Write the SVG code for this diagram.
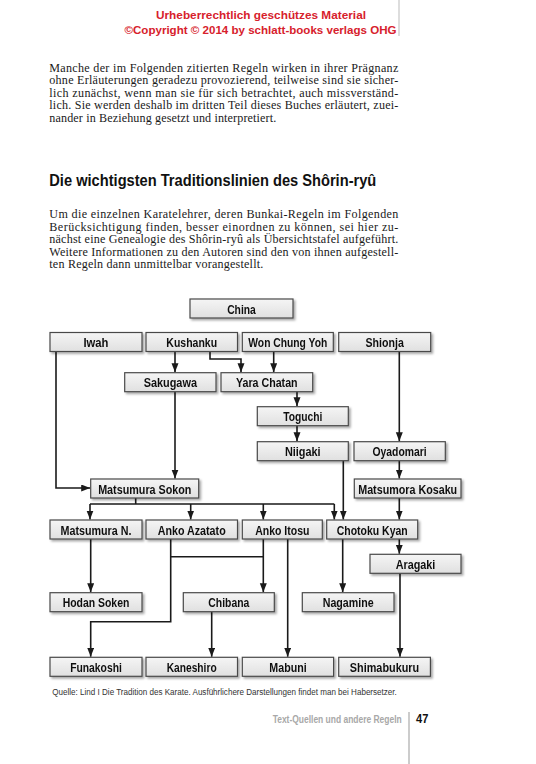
<svg xmlns="http://www.w3.org/2000/svg" width="536" height="764" viewBox="0 0 536 764">
<style>
.hdr{font-family:"Liberation Sans",Arial,sans-serif;font-weight:bold;font-size:11.5px;fill:#d7212c}
.body{font-family:"Liberation Serif","Times New Roman",serif;font-size:12.1px;fill:#1a1a1a}
.h2{font-family:"Liberation Sans",Arial,sans-serif;font-weight:bold;font-size:16.5px;fill:#111}
.box{fill:url(#bg);stroke:#4a4a4a;stroke-width:1.2}
.lbl{font-family:"Liberation Sans",Arial,sans-serif;font-weight:bold;font-size:13.5px;fill:#111;text-anchor:middle}
.con path{fill:none;stroke:#1a1a1a;stroke-width:1.6}
.arr{marker-end:url(#ah)}
.cap{font-family:"Liberation Sans",Arial,sans-serif;font-size:9.6px;fill:#333}
.ft{font-family:"Liberation Sans",Arial,sans-serif;font-weight:bold;font-size:11px;fill:#a8a8a8;text-anchor:end}
.pg{font-family:"Liberation Sans",Arial,sans-serif;font-weight:bold;font-size:13px;fill:#111}
</style>
<defs>
<linearGradient id="bg" x1="0" y1="0" x2="0" y2="1">
<stop offset="0" stop-color="#f5f5f5"/>
<stop offset="1" stop-color="#e0e0e0"/>
</linearGradient>
<filter id="sh" x="-10%" y="-30%" width="125%" height="180%">
<feDropShadow dx="1.8" dy="1.8" stdDeviation="1.3" flood-color="#000" flood-opacity="0.35"/>
</filter>
<marker id="ah" markerUnits="userSpaceOnUse" markerWidth="10" markerHeight="8" refX="9" refY="3.5" orient="auto">
<path d="M0,0 L9,3.5 L0,7 Z" fill="#1a1a1a"/>
</marker>
</defs>
<rect width="536" height="764" fill="#fff"/>

<g id="header">
<text class="hdr" x="156" y="19" textLength="210" lengthAdjust="spacingAndGlyphs">Urheberrechtlich geschützes Material</text>
<text class="hdr" x="124.5" y="33.5" textLength="272" lengthAdjust="spacingAndGlyphs">©Copyright © 2014 by schlatt-books verlags OHG</text>
<line x1="399" y1="0" x2="399" y2="36" stroke="#bbb" stroke-width="1"/>
</g>

<g id="para1">
<text class="body" x="49.3" y="71.5" textLength="349" lengthAdjust="spacing">Manche der im Folgenden zitierten Regeln wirken in ihrer Prägnanz</text>
<text class="body" x="49.3" y="84" textLength="349" lengthAdjust="spacing">ohne Erläuterungen geradezu provozierend, teilweise sind sie sicher-</text>
<text class="body" x="49.3" y="96.5" textLength="349" lengthAdjust="spacing">lich zunächst, wenn man sie für sich betrachtet, auch missverständ-</text>
<text class="body" x="49.3" y="109" textLength="349" lengthAdjust="spacing">lich. Sie werden deshalb im dritten Teil dieses Buches erläutert, zuei-</text>
<text class="body" x="49.3" y="121.5" textLength="227" lengthAdjust="spacing">nander in Beziehung gesetzt und interpretiert.</text>
</g>

<g id="heading">
<text class="h2" x="49.3" y="186" textLength="327" lengthAdjust="spacingAndGlyphs">Die wichtigsten Traditionslinien des Shôrin-ryû</text>
</g>

<g id="para2">
<text class="body" x="49.3" y="218" textLength="349" lengthAdjust="spacing">Um die einzelnen Karatelehrer, deren Bunkai-Regeln im Folgenden</text>
<text class="body" x="49.3" y="230.5" textLength="349" lengthAdjust="spacing">Berücksichtigung finden, besser einordnen zu können, sei hier zu-</text>
<text class="body" x="49.3" y="243" textLength="349" lengthAdjust="spacing">nächst eine Genealogie des Shôrin-ryû als Übersichtstafel aufgeführt.</text>
<text class="body" x="49.3" y="255.5" textLength="349" lengthAdjust="spacing">Weitere Informationen zu den Autoren sind den von ihnen aufgestell-</text>
<text class="body" x="49.3" y="268" textLength="214" lengthAdjust="spacing">ten Regeln dann unmittelbar vorangestellt.</text>
</g>

<g id="connectors" class="con">
<path class="arr" d="M56,352 V488 H90.2"/>
<path class="arr" d="M175,352 V372.2"/>
<path class="arr" d="M210,352 V359 H241 V372.2"/>
<path class="arr" d="M273.7,352 V372.2"/>
<path class="arr" d="M399.3,352 V441.2"/>
<path class="arr" d="M297,391.5 V406.2"/>
<path class="arr" d="M297,425.7 V441.2"/>
<path class="arr" d="M175,391.5 V478.5"/>
<path class="arr" d="M343.3,460.5 V519.5"/>
<path class="arr" d="M399.3,460.5 V478.5"/>
<path class="arr" d="M399.3,498 V519.5"/>
<path class="arr" d="M399.3,539 V553.8"/>
<path d="M135.7,498 V504 M90,504 H334.3"/>
<path class="arr" d="M90,504 V519.5"/>
<path class="arr" d="M190.7,504 V519.5"/>
<path class="arr" d="M263.3,504 V519.5"/>
<path class="arr" d="M334.3,504 V519.5"/>
<path class="arr" d="M90.7,539 V592.2"/>
<path class="arr" d="M170.7,539 V621.7 H90.7 V656.8"/>
<path d="M170.7,556.7 H263.3"/>
<path class="arr" d="M263.3,539 V592.2"/>
<path class="arr" d="M287.7,539 V656.8"/>
<path class="arr" d="M342.7,539 V592.2"/>
<path class="arr" d="M211.7,612 V656.8"/>
<path class="arr" d="M400,573 V656.8"/>
</g>

<g id="n-china" filter="url(#sh)"><rect class="box" x="190" y="299" width="103" height="19"/><text class="lbl" x="241.5" y="313.5" textLength="28.7" lengthAdjust="spacingAndGlyphs">China</text></g>
<g id="n-iwah" filter="url(#sh)"><rect class="box" x="50" y="332.5" width="92" height="19"/><text class="lbl" x="96" y="347" textLength="25" lengthAdjust="spacingAndGlyphs">Iwah</text></g>
<g id="n-kushanku" filter="url(#sh)"><rect class="box" x="146" y="332.5" width="91.5" height="19"/><text class="lbl" x="191.7" y="347" textLength="50.7" lengthAdjust="spacingAndGlyphs">Kushanku</text></g>
<g id="n-won" filter="url(#sh)"><rect class="box" x="242.3" y="332.5" width="91" height="19"/><text class="lbl" x="287.8" y="347" textLength="79" lengthAdjust="spacingAndGlyphs">Won Chung Yoh</text></g>
<g id="n-shionja" filter="url(#sh)"><rect class="box" x="338.7" y="332.5" width="92" height="19"/><text class="lbl" x="384.7" y="347" textLength="38.3" lengthAdjust="spacingAndGlyphs">Shionja</text></g>
<g id="n-sakugawa" filter="url(#sh)"><rect class="box" x="124.7" y="372.7" width="91.3" height="19"/><text class="lbl" x="170.3" y="387.2" textLength="53.3" lengthAdjust="spacingAndGlyphs">Sakugawa</text></g>
<g id="n-yara" filter="url(#sh)"><rect class="box" x="221" y="372.7" width="91.7" height="19"/><text class="lbl" x="266.8" y="387.2" textLength="61.7" lengthAdjust="spacingAndGlyphs">Yara Chatan</text></g>
<g id="n-toguchi" filter="url(#sh)"><rect class="box" x="257.3" y="406.7" width="91" height="19"/><text class="lbl" x="302.8" y="421.2" textLength="39.3" lengthAdjust="spacingAndGlyphs">Toguchi</text></g>
<g id="n-niigaki" filter="url(#sh)"><rect class="box" x="257.3" y="441.7" width="91" height="19"/><text class="lbl" x="302.8" y="456.2" textLength="35.7" lengthAdjust="spacingAndGlyphs">Niigaki</text></g>
<g id="n-oyadomari" filter="url(#sh)"><rect class="box" x="354" y="441.7" width="91.3" height="19"/><text class="lbl" x="399.6" y="456.2" textLength="54.3" lengthAdjust="spacingAndGlyphs">Oyadomari</text></g>
<g id="n-sokon" filter="url(#sh)"><rect class="box" x="90.7" y="479" width="108" height="19"/><text class="lbl" x="144.8" y="493.5" textLength="93.3" lengthAdjust="spacingAndGlyphs">Matsumura Sokon</text></g>
<g id="n-kosaku" filter="url(#sh)"><rect class="box" x="354.3" y="479" width="106.7" height="19"/><text class="lbl" x="407.7" y="493.5" textLength="99" lengthAdjust="spacingAndGlyphs">Matsumora Kosaku</text></g>
<g id="n-matsumuran" filter="url(#sh)"><rect class="box" x="50" y="520" width="92" height="19"/><text class="lbl" x="96" y="534.5" textLength="71" lengthAdjust="spacingAndGlyphs">Matsumura N.</text></g>
<g id="n-azatato" filter="url(#sh)"><rect class="box" x="146" y="520" width="91.5" height="19"/><text class="lbl" x="191.7" y="534.5" textLength="68" lengthAdjust="spacingAndGlyphs">Anko Azatato</text></g>
<g id="n-itosu" filter="url(#sh)"><rect class="box" x="242.3" y="520" width="80" height="19"/><text class="lbl" x="282.3" y="534.5" textLength="54.3" lengthAdjust="spacingAndGlyphs">Anko Itosu</text></g>
<g id="n-kyan" filter="url(#sh)"><rect class="box" x="326.7" y="520" width="91" height="19"/><text class="lbl" x="372.2" y="534.5" textLength="71" lengthAdjust="spacingAndGlyphs">Chotoku Kyan</text></g>
<g id="n-aragaki" filter="url(#sh)"><rect class="box" x="370" y="554.3" width="91" height="19"/><text class="lbl" x="415.5" y="568.8" textLength="39.7" lengthAdjust="spacingAndGlyphs">Aragaki</text></g>
<g id="n-hodan" filter="url(#sh)"><rect class="box" x="50" y="592.7" width="92" height="19"/><text class="lbl" x="96" y="607.2" textLength="66.7" lengthAdjust="spacingAndGlyphs">Hodan Soken</text></g>
<g id="n-chibana" filter="url(#sh)"><rect class="box" x="183.3" y="592.7" width="91" height="19"/><text class="lbl" x="228.8" y="607.2" textLength="41" lengthAdjust="spacingAndGlyphs">Chibana</text></g>
<g id="n-nagamine" filter="url(#sh)"><rect class="box" x="302.3" y="592.7" width="91.7" height="19"/><text class="lbl" x="348.2" y="607.2" textLength="51" lengthAdjust="spacingAndGlyphs">Nagamine</text></g>
<g id="n-funakoshi" filter="url(#sh)"><rect class="box" x="50" y="657.3" width="92" height="19"/><text class="lbl" x="96" y="671.8" textLength="51.7" lengthAdjust="spacingAndGlyphs">Funakoshi</text></g>
<g id="n-kaneshiro" filter="url(#sh)"><rect class="box" x="146" y="657.3" width="91.5" height="19"/><text class="lbl" x="191.7" y="671.8" textLength="50" lengthAdjust="spacingAndGlyphs">Kaneshiro</text></g>
<g id="n-mabuni" filter="url(#sh)"><rect class="box" x="242.3" y="657.3" width="91.3" height="19"/><text class="lbl" x="288" y="671.8" textLength="37.3" lengthAdjust="spacingAndGlyphs">Mabuni</text></g>
<g id="n-shimabukuru" filter="url(#sh)"><rect class="box" x="338.7" y="657.3" width="91.7" height="19"/><text class="lbl" x="384.5" y="671.8" textLength="69.3" lengthAdjust="spacingAndGlyphs">Shimabukuru</text></g>

<g id="caption">
<text class="cap" x="52.3" y="695" textLength="344.5" lengthAdjust="spacingAndGlyphs">Quelle: Lind I Die Tradition des Karate. Ausführlichere Darstellungen findet man bei Habersetzer.</text>
</g>

<g id="footer">
<text class="ft" transform="translate(401.7,722.5) scale(0.77,1)" x="0" y="0">Text-Quellen und andere Regeln</text>
<line x1="409" y1="712" x2="409" y2="764" stroke="#999" stroke-width="1"/>
<text class="pg" x="416" y="723" textLength="12.3" lengthAdjust="spacingAndGlyphs">47</text>
</g>
</svg>
